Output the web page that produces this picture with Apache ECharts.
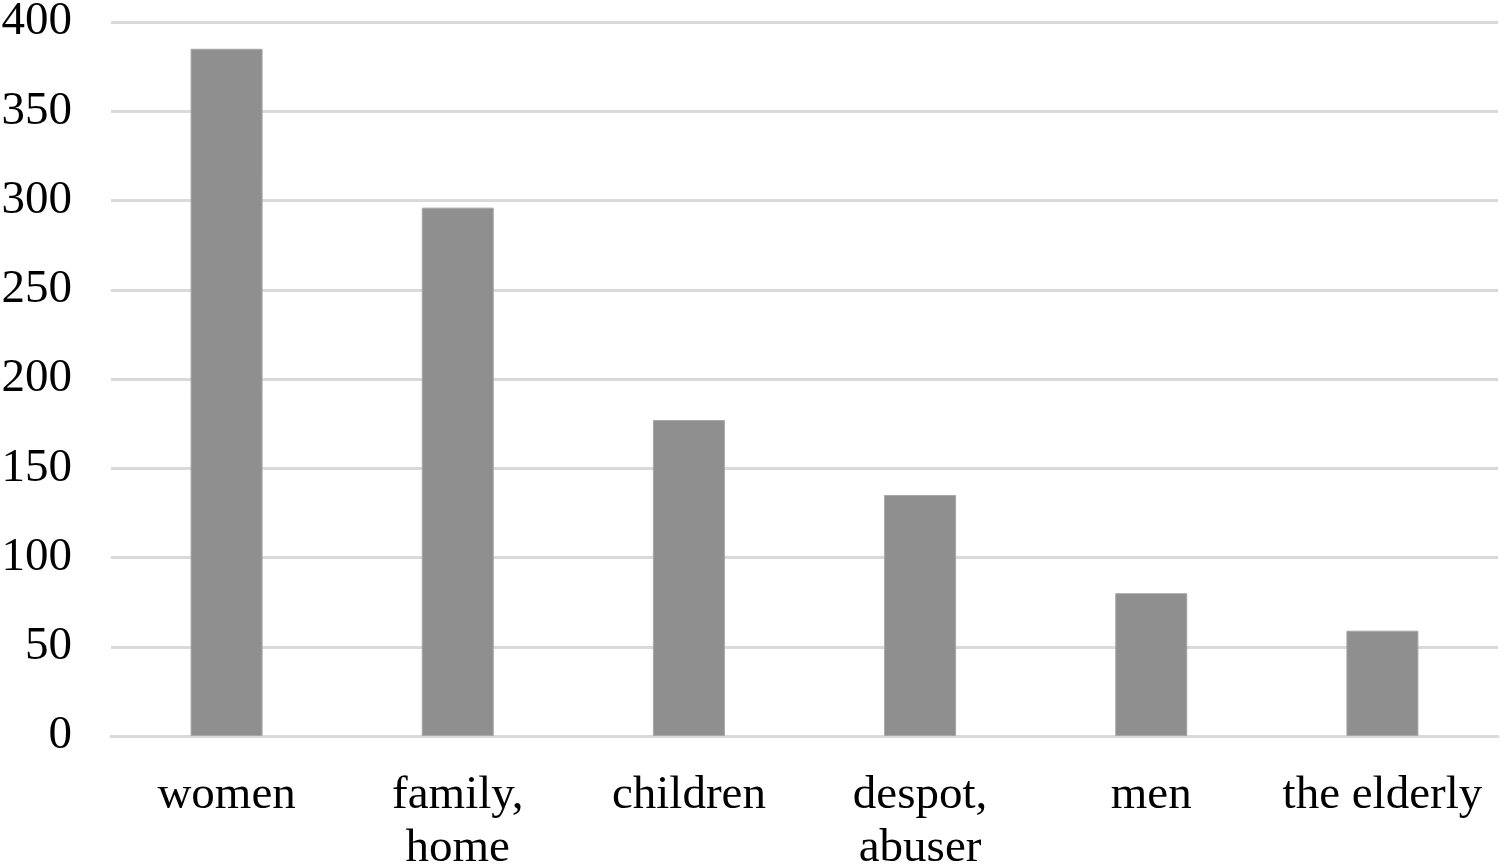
<!DOCTYPE html>
<html>
<head>
<meta charset="utf-8">
<script src="https://cdn.jsdelivr.net/npm/echarts@6/dist/echarts.min.js"></script>
<style>html,body{margin:0;padding:0;background:#fff;overflow:hidden;}#c{width:100vw;height:100vh;}</style>
</head>
<body>
<div id="c"></div>
<script>
const categories = ['women', 'family,\nhome', 'children', 'despot,\nabuser', 'men', 'the elderly'];
const values = [385, 296, 177, 135, 80, 59];
const yTicks = [0, 50, 100, 150, 200, 250, 300, 350, 400];

const chart = echarts.init(document.getElementById('c'), null, {renderer: 'canvas'});
chart.setOption({
  animation: false,
  backgroundColor: '#ffffff',
  grid: {left: 111, right: 2, top: 22, bottom: 128, containLabel: false, outerBoundsMode: 'none'},
  xAxis: {
    type: 'category',
    data: categories,
    axisLine: {show: true, lineStyle: {color: '#d9d9d9', width: 3}},
    axisTick: {show: false},
    axisLabel: {
      interval: 0,
      margin: 33,
      fontFamily: 'Liberation Serif',
      fontSize: 47,
      color: '#000',
      lineHeight: 53,
      verticalAlign: 'top'
    }
  },
  yAxis: {
    type: 'value',
    min: yTicks[0],
    max: yTicks[yTicks.length - 1],
    interval: 50,
    axisLine: {show: false},
    axisTick: {show: false},
    splitLine: {lineStyle: {color: '#d9d9d9', width: 3}},
    axisLabel: {
      margin: 39,
      fontFamily: 'Liberation Serif',
      fontSize: 47,
      color: '#000'
    }
  },
  series: [{
    type: 'bar',
    data: values,
    barWidth: 72,
    itemStyle: {color: '#8f8f8f', borderColor: '#a6a6a6', borderWidth: 1}
  }]
});
</script>
</body>
</html>
